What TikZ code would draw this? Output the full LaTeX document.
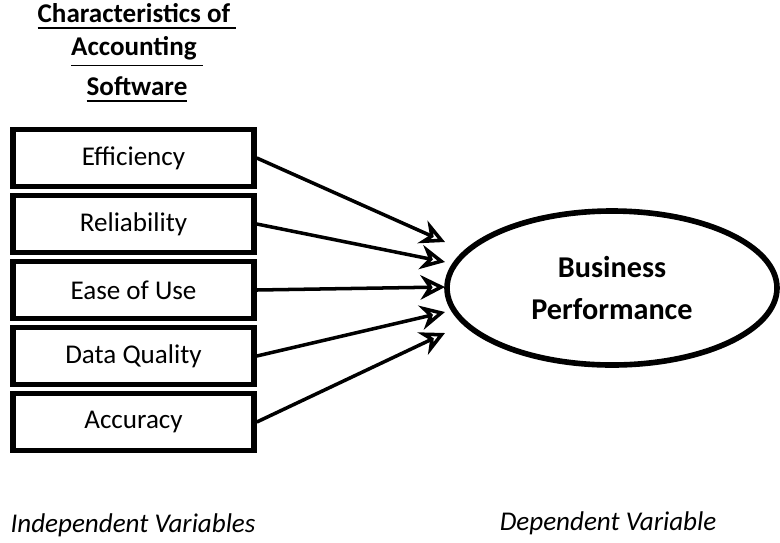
\documentclass[tikz,border=0pt]{standalone}
\usepackage{fontspec}
\setmainfont{Carlito}
\usetikzlibrary{shapes.geometric,arrows.meta}
\tikzset{
  varbox/.style={draw, line width=1.6pt, minimum width=2.41cm, minimum height=0.57cm, font=\fontsize{7.7}{9}\selectfont},
  effect/.style={-{Stealth[open,length=7pt,width=7pt]}, line width=1pt},
  heading/.style={font=\fontsize{7.7}{9}\selectfont\bfseries}
}
\begin{document}
\begin{tikzpicture}
   \useasboundingbox (0,0) rectangle (7.8,5.42);
   % title
   \node[heading] (t1) at (1.37,5.25) {\underline{Characteristics of\ }};
   \node[heading] (t2) at (1.37,4.90) {\underline{Accounting\ }};
   \node[heading] (t3) at (1.37,4.52) {\underline{Software}};
   % independent variables
   \foreach \n/\y/\txt in {eff/3.84/Efficiency, rel/3.18/Reliability, ease/2.52/Ease of Use, data/1.86/Data Quality, acc/1.20/Accuracy} {
       \node[varbox] (\n) at (1.335,\y) {\txt};
   }
   % dependent variable
   \node[draw, ellipse, line width=1.6pt, minimum width=3.3cm, minimum height=1.54cm, align=center,
         font=\fontsize{8.6}{12}\selectfont\bfseries] (bp) at (6.12,2.54) {Business\\Performance};
   \foreach \n/\yy in {eff/3.0, rel/2.8, ease/2.55, data/2.3, acc/2.09} {
       \coordinate (e-\n) at (4.45,\yy);
       \draw[effect] (\n.east) -- (e-\n);
   }
   % bottom labels
   \node[font=\fontsize{7.7}{9}\selectfont\itshape] (iv) at (1.33,0.17) {Independent Variables};
   \node[font=\fontsize{7.7}{9}\selectfont\itshape] (dv) at (6.08,0.19) {Dependent Variable};
\end{tikzpicture}
\end{document}
